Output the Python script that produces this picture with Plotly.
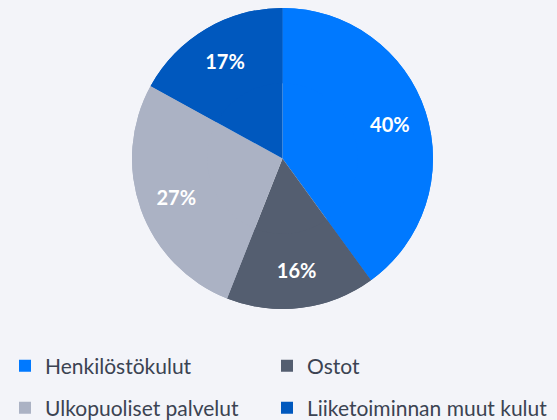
import plotly.graph_objects as go

# ========== 数据 ==========
labels = ["Henkilöstökulut", "Ostot", "Ulkopuoliset palvelut", "Liiketoiminnan muut kulut"]
values = [40, 16, 27, 17]
colors = ["#0079ff", "#545e70", "#abb2c4", "#0058be"]

W, H = 557, 420
pie_domain = dict(x=[132 / W, 433 / W], y=[1 - 309 / H, 1 - 8 / H])
# legend entry positions (text left edge, row centre), 2 x 2 grid
legend_pos = [(45, 366), (307, 366), (45, 408), (307, 408)]

fig = go.Figure()

# full pie underneath (fills centre), no text
fig.add_trace(go.Pie(
    labels=labels,
    values=values,
    sort=False,
    direction="clockwise",
    rotation=0,
    marker=dict(colors=colors, line=dict(width=0)),
    textinfo="none",
    domain=pie_domain,
    showlegend=False,
    hoverinfo="skip",
))

# ring on top carries the percentage labels further out
fig.add_trace(go.Pie(
    labels=labels,
    values=values,
    sort=False,
    direction="clockwise",
    rotation=0,
    hole=0.5,
    marker=dict(colors=colors, line=dict(width=0)),
    texttemplate="%{percent:.0%}",
    textposition="inside",
    insidetextorientation="horizontal",
    textfont=dict(family="Lato", size=20, color="white", weight="bold"),
    domain=pie_domain,
    showlegend=False,
    hoverinfo="label+percent",
))

# legend entries, one small legend each so the grid can be placed freely
legends = {}
for i, (tx, ty) in enumerate(legend_pos):
    key = "legend" if i == 0 else f"legend{i + 1}"
    fig.add_trace(go.Scatter(
        x=[None], y=[None],
        mode="markers",
        name=labels[i],
        marker=dict(symbol="square", size=12, color=colors[i], line=dict(width=0)),
        legend=key,
        hoverinfo="skip",
    ))
    legends[key] = dict(
        x=(tx - 40) / W, xanchor="left",
        y=1 - ty / H, yanchor="middle",
        font=dict(family="Lato", size=21, color="#3b4352"),
        bgcolor="rgba(0,0,0,0)",
    )

fig.update_layout(
    width=W,
    height=H,
    margin=dict(l=0, r=0, t=0, b=0, autoexpand=False),
    paper_bgcolor="#f3f4f9",
    plot_bgcolor="#f3f4f9",
    showlegend=True,
    xaxis=dict(visible=False),
    yaxis=dict(visible=False),
    **legends,
)

fig.write_html(
    "out.html",
    config={"displayModeBar": False},
    post_script="document.body.style.margin='0';",
)
